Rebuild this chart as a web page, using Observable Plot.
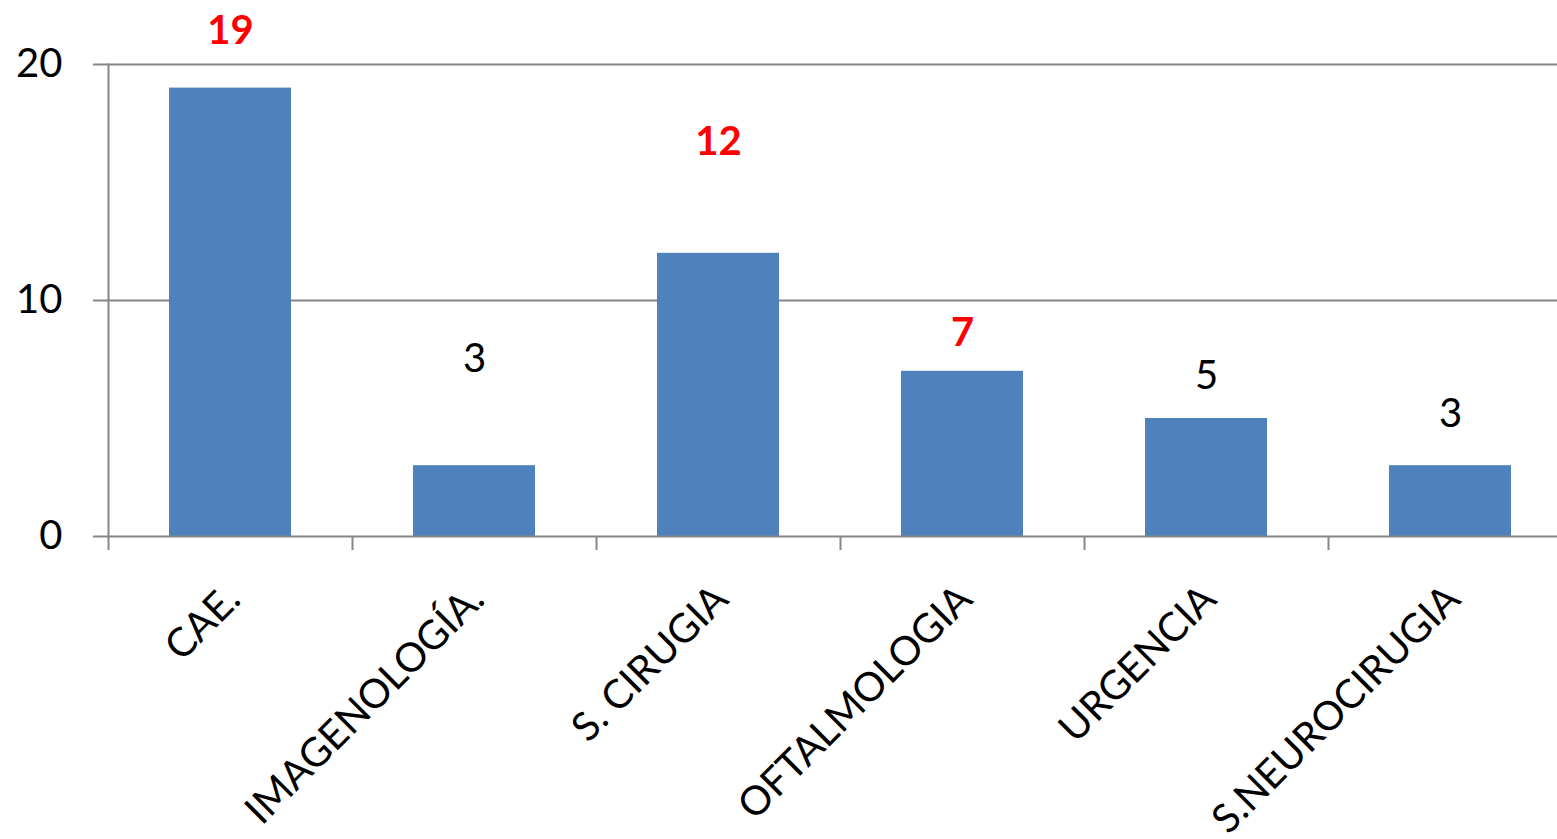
<!DOCTYPE html>
<html>
<head>
<meta charset="utf-8">
<script src="https://cdn.jsdelivr.net/npm/d3@7"></script>
<script src="https://cdn.jsdelivr.net/npm/@observablehq/plot@0.6"></script>
<style>
  html, body { margin: 0; padding: 0; background: white; overflow: hidden; }
  #chart svg { display: block; }
</style>
</head>
<body>
<div id="chart"></div>
<script>
// ---- data ----
const categories = ["CAE.", "IMAGENOLOGÍA.", "S. CIRUGIA", "OFTALMOLOGIA", "URGENCIA", "S.NEUROCIRUGIA"];
const values = [19, 3, 12, 7, 5, 3];
// where each value label sits (in data units of the y axis)
const labelAt = [21.4, 7.5, 16.7, 8.6, 6.8, 5.2];
const highlighted = [true, false, true, true, false, false];
const yTicks = [0, 10, 20];

const table = categories.map((c, i) => ({cat: c, value: values[i], labelAt: labelAt[i], hl: highlighted[i]}));

// ---- layout ----
const W = 1557, H = 839;
const left = 108, rightEdge = 1572;
const step = (rightEdge - left) / categories.length;
const gray = "#868686";
const font = "Lato, 'Open Sans', sans-serif";

const chart = Plot.plot({
  width: W,
  height: H,
  marginLeft: left,
  marginRight: 0,
  marginTop: 64,
  marginBottom: 303,
  style: {fontFamily: font, background: "white", overflow: "hidden", color: "black"},
  x: {domain: categories, range: [left, rightEdge], paddingInner: 0.5, paddingOuter: 0.25, axis: null},
  y: {domain: [0, 20], axis: null},
  marks: [
    Plot.ruleY([10, 20], {stroke: gray, strokeWidth: 2}),
    Plot.barY(table, {x: "cat", y: "value", fill: "#4F81BD"}),
    Plot.ruleY([0], {stroke: gray, strokeWidth: 2}),
    Plot.frame({anchor: "left", stroke: gray, strokeWidth: 2}),
    Plot.axisY({ticks: yTicks, tickSize: 15, tickPadding: 31, fontSize: 40, stroke: gray, strokeWidth: 2, fill: "black", label: null}),
    Plot.axisX({ticks: categories, tickSize: 14, tickFormat: () => "", dx: -step / 2, stroke: gray, strokeWidth: 2, label: null}),
    Plot.text(table.filter(d => d.hl), {x: "cat", y: "labelAt", text: d => String(d.value), fill: "#FF0000", fontWeight: "bold", fontSize: 40}),
    Plot.text(table.filter(d => !d.hl), {x: "cat", y: "labelAt", text: d => String(d.value), fill: "black", fontSize: 40}),
    Plot.text(categories, {x: d => d, frameAnchor: "bottom", dx: 12, dy: 65, rotate: -45, textAnchor: "end", lineAnchor: "bottom", fontSize: 40, fill: "black"})
  ]
});

document.getElementById("chart").appendChild(chart);
</script>
</body>
</html>
